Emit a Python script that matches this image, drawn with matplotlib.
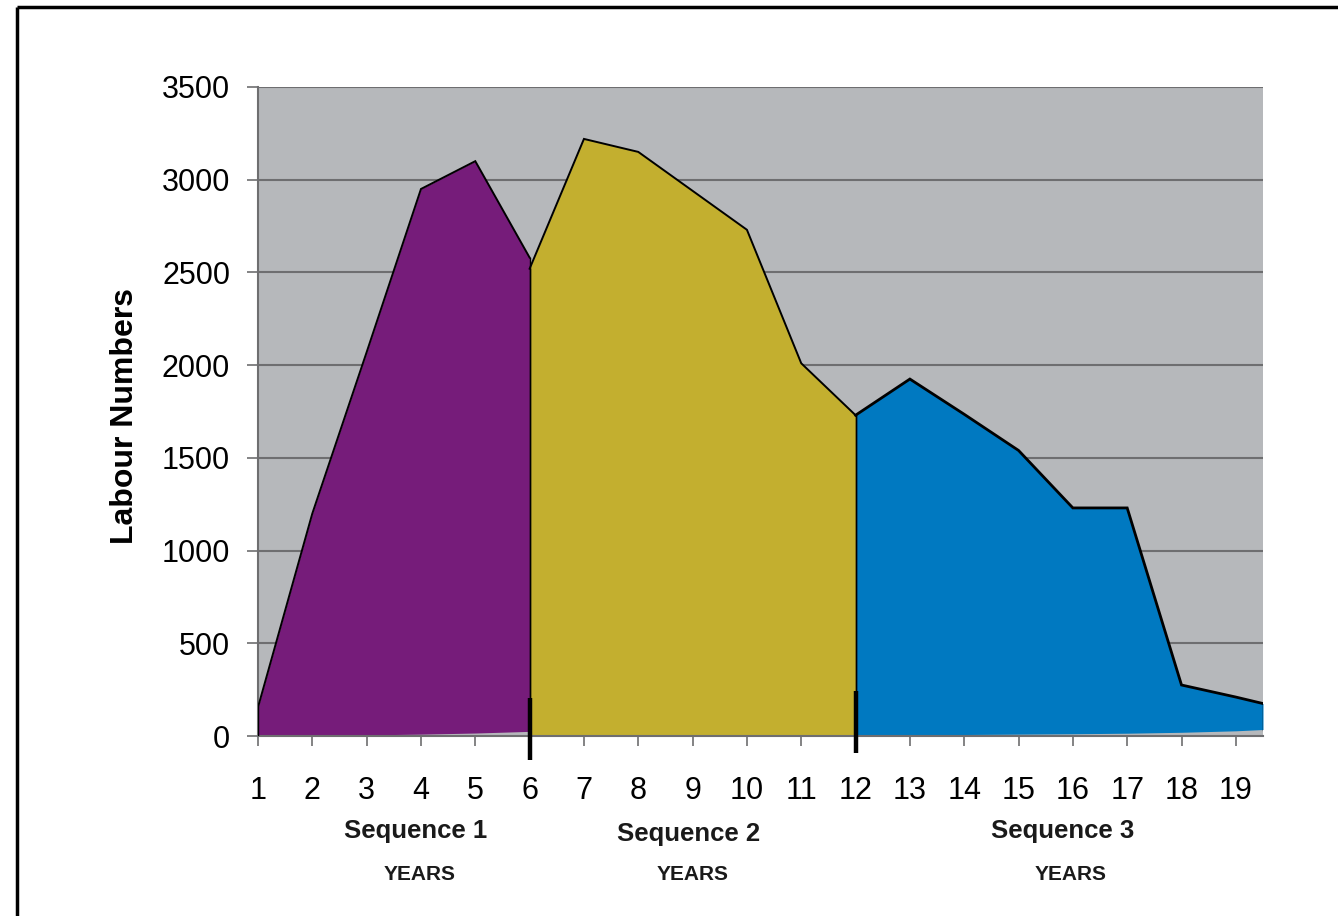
import matplotlib
matplotlib.use("Agg")
import matplotlib.pyplot as plt
from matplotlib.lines import Line2D

plt.rcParams['font.family'] = ['Liberation Sans', 'DejaVu Sans']

# Labour numbers per year for each construction sequence
years = list(range(1, 20))
seq1_x = [1, 2, 3, 4, 5, 6]
seq1_y = [155, 1200, 2070, 2950, 3100, 2580]
seq1_base = [0, 3, 6, 10, 16, 25]

seq2_x = [6, 7, 8, 9, 10, 11, 12]
seq2_y = [2520, 3220, 3150, 2940, 2730, 2010, 1730]
seq2_base = [0, 0, 0, 0, 0, 0, 0]

seq3_x = [12, 13, 14, 15, 16, 17, 18, 19, 19.5]
seq3_y = [1730, 1925, 1735, 1540, 1230, 1230, 275, 210, 175]
seq3_base = [5, 5, 8, 10, 12, 15, 20, 28, 35]

seq_colors = ['#761C7A', '#C3AF2F', '#0079C1']
seq_names = ['Sequence 1', 'Sequence 2', 'Sequence 3']
edge_widths = [1.4, 1.4, 2.0]
boundaries = [6, 12]
y_ticks = [0, 500, 1000, 1500, 2000, 2500, 3000, 3500]

W, H = 1338, 916
fig = plt.figure(figsize=(W / 100, H / 100), dpi=100)
ax = fig.add_axes([258 / W, 1 - 736 / H, 1005 / W, 649 / H])
ax.set_facecolor('#B6B8BB')
ax.set_xlim(1, 19.5)
ax.set_ylim(0, 3500)

for y in y_ticks[1:]:
    ax.axhline(y, color='#6E6E70', lw=1.5, zorder=1)

series = [(seq1_x, seq1_y, seq1_base), (seq2_x, seq2_y, seq2_base),
          (seq3_x, seq3_y, seq3_base)]
for (xs, ys, base), col, ew in zip(series, seq_colors, edge_widths):
    ax.fill_between(xs, base, ys, color=col, lw=0, zorder=2)
    ax.plot(xs, ys, color='black', lw=ew, zorder=3, solid_joinstyle='miter')
    ax.plot([xs[0], xs[0]], [base[0], ys[0]], color='black', lw=1.0, zorder=3)
    ax.plot([xs[-1], xs[-1]], [base[-1], ys[-1]], color='black', lw=1.0, zorder=3)

# Boundary markers between the sequences
ax.plot([boundaries[0]] * 2, [205, -130], color='black', lw=3.2,
        clip_on=False, zorder=6, solid_capstyle='butt')
ax.plot([boundaries[1]] * 2, [240, -90], color='black', lw=3.2,
        clip_on=False, zorder=6, solid_capstyle='butt')

ax.set_xticks(years)
ax.set_xticklabels([str(v) for v in years], fontsize=22)
ax.set_yticks(y_ticks)
ax.set_yticklabels([str(v) for v in y_ticks], fontsize=22)
ax.tick_params(axis='x', length=7, width=1.2, color='#6E6E70', pad=22)
ax.tick_params(axis='y', length=8, width=1.2, color='#6E6E70', pad=12)
for s in ['top', 'right']:
    ax.spines[s].set_visible(False)
for s in ['left', 'bottom']:
    ax.spines[s].set_color('#6E6E70')
    ax.spines[s].set_linewidth(1.5)

fig.text(125 / W, 1 - 416 / H, 'Labour Numbers', rotation=90, fontsize=23,
         fontweight='bold', ha='center', va='center')

seq_label_px = [(416, 831), (689, 834), (1063, 831)]
years_label_px = [(420, 874), (693, 874), (1071, 874)]
for name, (px, py) in zip(seq_names, seq_label_px):
    fig.text(px / W, 1 - py / H, name, fontsize=18.5, fontweight='bold',
             ha='center', va='center', color='#1A1A1A')
for px, py in years_label_px:
    fig.text(px / W, 1 - py / H, 'YEARS', fontsize=15, fontweight='bold',
             ha='center', va='center', color='#1A1A1A')

# Frame lines along the top and left of the figure
fig.add_artist(Line2D([16.5 / W, 1.0], [1 - 6.5 / H, 1 - 6.5 / H],
                      transform=fig.transFigure, color='black', lw=2.5,
                      solid_capstyle='butt'))
fig.add_artist(Line2D([16.5 / W, 16.5 / W], [0, 1 - 6.5 / H],
                      transform=fig.transFigure, color='black', lw=2.5,
                      solid_capstyle='butt'))

fig.savefig('out.png', dpi=100, facecolor='white')
